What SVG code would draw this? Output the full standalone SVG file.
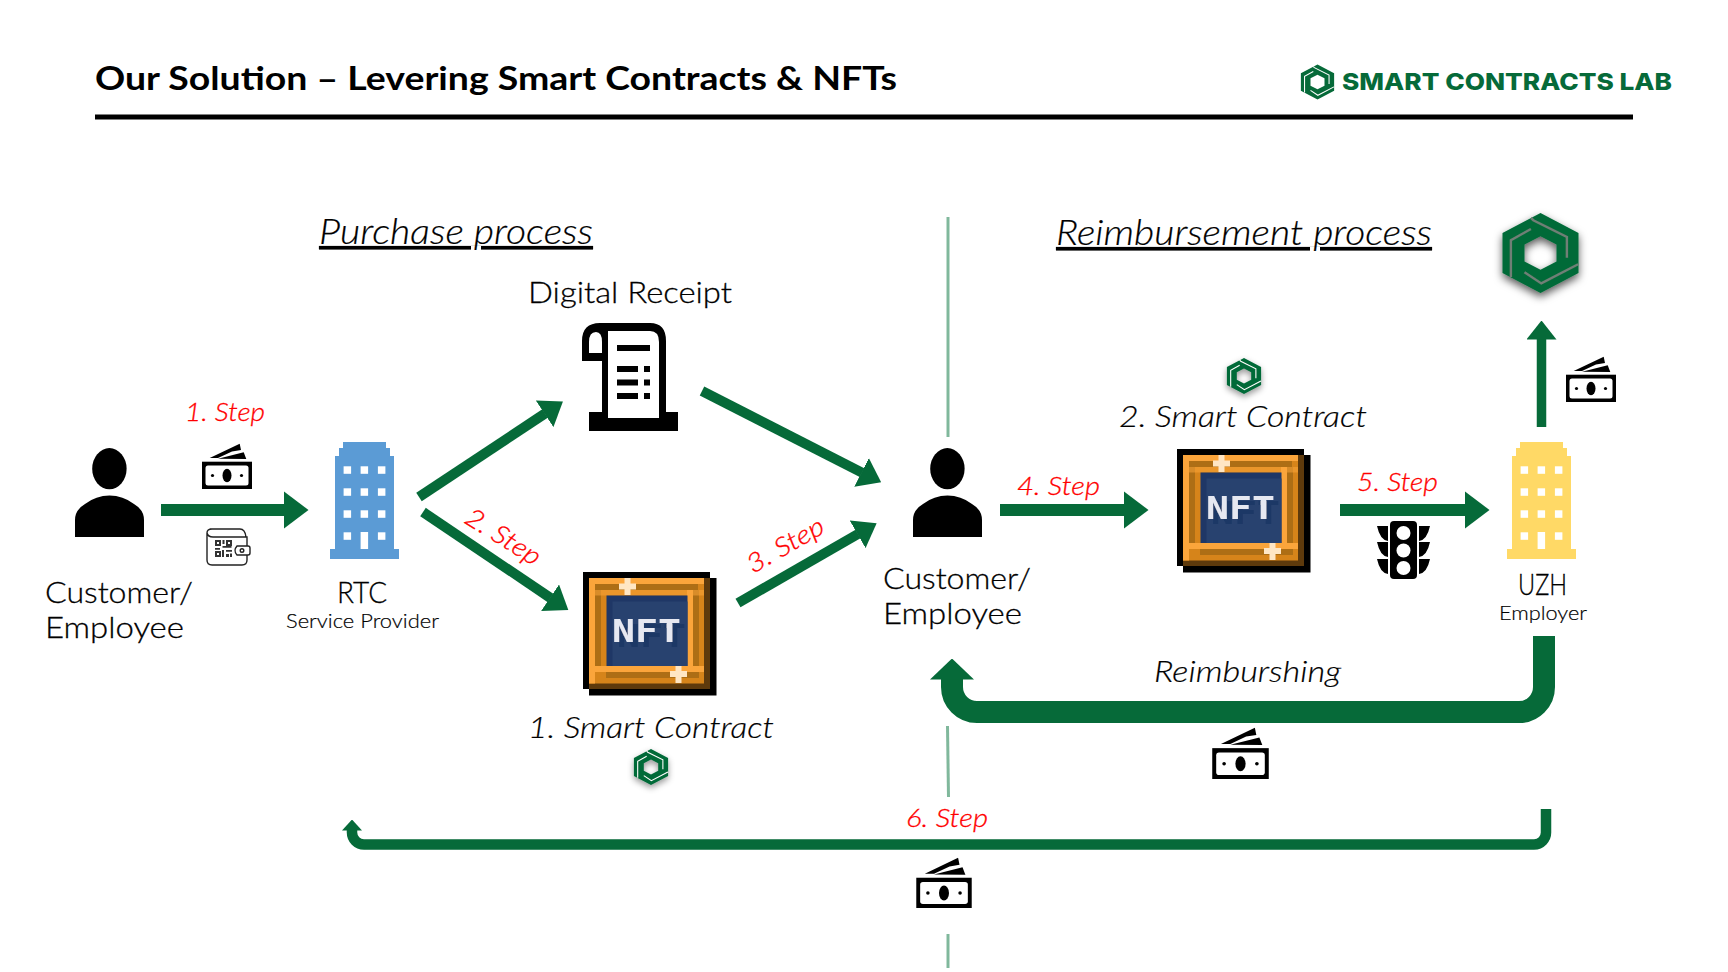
<svg xmlns="http://www.w3.org/2000/svg" width="1728" height="972" viewBox="0 0 1728 972">
<style>
text{font-family:"Lato","Liberation Sans",sans-serif;font-weight:300;fill:#000}
.lab{font-size:30px;stroke:#000;stroke-width:.3px}
.sub{font-size:20px;stroke:#000;stroke-width:.2px}
.proc{font-size:35px;font-style:italic;text-decoration:underline;text-decoration-skip-ink:none;stroke:#000;stroke-width:.2px}
.step{font-size:26px;font-style:italic;fill:#ff0000;stroke:#ff0000;stroke-width:.3px}
.sc{font-size:30px;font-style:italic;stroke:#000;stroke-width:.2px}
.c{stroke:#066a39;fill:none}
.div{stroke:#80b89c;stroke-width:3;fill:none}
.nft-t{font-family:"DejaVu Sans Mono","Liberation Mono",monospace;font-weight:700;font-size:32px;fill:#e6e8f1}
</style>
<defs>
<marker id="hL" markerUnits="userSpaceOnUse" viewBox="0 0 25 38" markerWidth="25" markerHeight="38" refX="0.5" refY="19" orient="auto"><path d="M0 0L25 19L0 38Z" fill="#066a39"/></marker>
<marker id="hM" markerUnits="userSpaceOnUse" viewBox="0 0 22 32" markerWidth="22" markerHeight="32" refX="0.5" refY="16" orient="auto"><path d="M0 0L22 16L0 32Z" fill="#066a39"/></marker>
<marker id="hU" markerUnits="userSpaceOnUse" viewBox="0 0 19 30" markerWidth="19" markerHeight="30" refX="0.5" refY="15" orient="auto"><path d="M0 0L19 15L0 30Z" fill="#066a39"/></marker>
<marker id="hB" markerUnits="userSpaceOnUse" viewBox="0 0 21 44" markerWidth="21" markerHeight="44" refX="0.5" refY="22" orient="auto"><path d="M0 0L21 22L0 44Z" fill="#066a39"/></marker>
<marker id="hS" markerUnits="userSpaceOnUse" viewBox="0 0 11 20" markerWidth="11" markerHeight="20" refX="0.5" refY="10" orient="auto"><path d="M0 0L11 10L0 20Z" fill="#066a39"/></marker>
<filter id="sh" x="-30%" y="-30%" width="160%" height="170%"><feDropShadow dx="0" dy="3" stdDeviation="3" flood-color="#000" flood-opacity=".4"/></filter>
<filter id="shL" x="-30%" y="-30%" width="160%" height="170%"><feDropShadow dx="0" dy="4" stdDeviation="4" flood-color="#000" flood-opacity=".65"/></filter>
<filter id="nftsh" x="-10%" y="-10%" width="130%" height="130%"><feDropShadow dx="5" dy="5" stdDeviation="0" flood-color="#1e3766"/></filter>
<symbol id="person" viewBox="0 0 69 90" width="69" height="90" overflow="visible">
<ellipse cx="34.4" cy="20.7" rx="17.2" ry="20.6"/>
<path d="M0 89V72Q0 62 10 56Q21 47.5 34.5 47.5Q48 47.5 59 56Q69 62 69 72V89Z"/>
</symbol>
<symbol id="bld" viewBox="0 0 69 117" width="69" height="117">
<path fill="currentColor" d="M13 0H56V6H60V14H64V107H69V117H0V107H5V14H9V6H13Z"/>
<g fill="#fff"><rect x="13.6" y="24.3" width="7.5" height="7.5"/><rect x="30.6" y="24.3" width="7.5" height="7.5"/><rect x="47.9" y="24.3" width="7.5" height="7.5"/>
<rect x="13.6" y="46.3" width="7.5" height="7.5"/><rect x="30.6" y="46.3" width="7.5" height="7.5"/><rect x="47.9" y="46.3" width="7.5" height="7.5"/>
<rect x="13.6" y="68.3" width="7.5" height="7.5"/><rect x="30.6" y="68.3" width="7.5" height="7.5"/><rect x="47.9" y="68.3" width="7.5" height="7.5"/>
<rect x="13.6" y="90.3" width="7.5" height="7.5"/><rect x="30.6" y="90" width="7.5" height="17"/><rect x="47.9" y="90.3" width="7.5" height="7.5"/></g>
</symbol>
<symbol id="money" viewBox="0 0 50 46" width="50" height="46">
<path d="M7.7 15L37.7 .7L39 7L30 8.5L16 15Z"/><path d="M16 15.7L41.7 9.3L44.3 16Z"/>
<rect y="18.7" width="50" height="27.3"/><rect x="3.5" y="22.5" width="43" height="20" rx="2.5" fill="#fff"/>
<ellipse cx="25" cy="32.5" rx="4.5" ry="6.7"/><circle cx="10.5" cy="32.5" r="1.6"/><circle cx="39.5" cy="32.5" r="1.6"/>
</symbol>
<symbol id="hex" viewBox="-50 -50 100 100" overflow="visible">
<path fill="#066a39" fill-rule="evenodd" d="M0-50L47.500-25V25L0 50L-47.500 25V-25ZM0-21L-20-10.500V10.500L0 21L20 10.500V-10.500Z"/>
<path fill="none" stroke="currentColor" stroke-width="3" d="M-12-44L-9-41L33-20V6M47 14L1 38L-20 24M-37 30V-16L-12-30"/>
</symbol>
<symbol id="nft" viewBox="0 0 134 124" width="134" height="124">
<path d="M0 0H127V6H133.500V123.500H6V117H0Z"/>
<rect x="6" y="6" width="121" height="111" fill="#5e3a0c"/>
<rect x="6" y="6" width="115" height="105.500" fill="#d6841a"/>
<rect x="6" y="6" width="115" height="6" fill="#fba53b"/><rect x="6" y="6" width="6" height="105.500" fill="#fba53b"/>
<rect x="12" y="12" width="103" height="6" fill="#ad6e15"/><rect x="12" y="18" width="6" height="82" fill="#ad6e15"/>
<rect x="110" y="18" width="6" height="88" fill="#ad6e15"/><rect x="23" y="100" width="87" height="6" fill="#ad6e15"/>
<rect x="6" y="18" width="115" height="5.500" fill="#fba53b" opacity=".55"/><rect x="6" y="94" width="115" height="6" fill="#fba53b"/>
<rect x="104" y="18" width="6" height="82" fill="#fba53b"/>
<rect x="23.500" y="23.500" width="81" height="70.500" fill="#1f3766"/><rect x="29.500" y="29.500" width="75" height="64.500" fill="#28426f"/>
<text class="nft-t" x="63.500" y="70" text-anchor="middle" textLength="69" lengthAdjust="spacingAndGlyphs" filter="url(#nftsh)">NFT</text>
<g fill="#ffe6c4"><rect x="36" y="11.500" width="17" height="6"/><rect x="41.500" y="6" width="6" height="17"/><rect x="87" y="99" width="17" height="6"/><rect x="92.500" y="94" width="6" height="17"/></g>
</symbol>
</defs>
<rect width="1728" height="972" fill="#fff"/>

<g id="title">
<text x="95" y="90" style="font-size:33px;font-weight:700" textLength="802" lengthAdjust="spacingAndGlyphs">Our Solution – Levering Smart Contracts &amp; NFTs</text>
<rect x="95" y="114.500" width="1538" height="5"/>
</g>
<g id="brand" style="color:#fff">
<use href="#hex" x="1300" y="64" width="35" height="36"/>
<text x="1342" y="90" style="font-family:Inter,'Liberation Sans',sans-serif;font-weight:800;font-size:23.500px;fill:#066a39" textLength="330" lengthAdjust="spacingAndGlyphs">SMART CONTRACTS LAB</text>
</g>

<g id="dividers" class="div">
<path d="M948 217V437"/><path d="M947.500 726L948.500 797"/><path d="M948 934V968"/>
</g>

<g id="connectors">
<path class="c" stroke-width="12" marker-end="url(#hL)" d="M161 510H284"/>
<path class="c" stroke-width="10" marker-end="url(#hM)" d="M419 497L545 413.500"/>
<path class="c" stroke-width="10" marker-end="url(#hM)" d="M423 512L550.500 598"/>
<path class="c" stroke-width="10" marker-end="url(#hM)" d="M702 391L862 472.600"/>
<path class="c" stroke-width="10" marker-end="url(#hM)" d="M738 603L858 534"/>
<path class="c" stroke-width="12" marker-end="url(#hL)" d="M1000 510H1124"/>
<path class="c" stroke-width="12" marker-end="url(#hL)" d="M1340 510H1465"/>
<path class="c" stroke-width="9.500" marker-end="url(#hU)" d="M1541.500 427V339"/>
<path class="c" stroke-width="22" marker-end="url(#hB)" d="M1544 636V687A25 25 0 0 1 1519 712H977A25 25 0 0 1 952 687V679"/>
<path class="c" stroke-width="10.500" marker-end="url(#hS)" d="M1546 809V832A12 12 0 0 1 1534 844.500H364A12 12 0 0 1 352 832.500V830"/>
</g>

<g id="customer-1"><use href="#person" x="75" y="448"/>
<text class="lab" x="45" y="603" textLength="148" lengthAdjust="spacingAndGlyphs">Customer/</text>
<text class="lab" x="45" y="638" textLength="139" lengthAdjust="spacingAndGlyphs">Employee</text></g>

<g id="step-1"><text class="step" x="185" y="421" textLength="80" lengthAdjust="spacingAndGlyphs">1. Step</text></g>
<g id="money-1"><use href="#money" x="202" y="443"/></g>
<g id="wallet" fill="none" stroke="#222" stroke-width="1.400">
<path d="M210 529H240Q245 529 246 537H247Q247 541 247 546M207 533Q207 529 212 529M207 533V560Q207 565 212 565H242Q247 565 247 560V555M207 533Q208 537 213 537H246"/>
<path d="M237 546H248Q250 546 250 548V553Q250 555 248 555H237Q233 550.500 237 546Z"/><circle cx="242" cy="550.500" r="1.800"/>
<g stroke="none" fill="#333"><path d="M215 540h6v6h-6zM226 540h6v6h-6zM215 551h6v6h-6z"/><path d="M222.500 540h2v4h-2zM222.500 546h9v1.800h-9zM215 548h5v1.800h-5zM222 550h2v7h-2zM226 550h6v1.800h-6zM226 554h3v3h-3zM230 553.500h2v3.500h-2z"/><path fill="#fff" d="M217 542h2v2h-2zM228 542h2v2h-2zM217 553h2v2h-2z"/></g>
</g>

<g id="rtc"><use href="#bld" x="330" y="442" style="color:#5b9bd5"/>
<text class="lab" x="337" y="603" textLength="50" lengthAdjust="spacingAndGlyphs">RTC</text>
<text class="sub" x="286" y="628" textLength="153" lengthAdjust="spacingAndGlyphs">Service Provider</text></g>

<g id="digital-receipt">
<text class="lab" x="528" y="303" textLength="204" lengthAdjust="spacingAndGlyphs">Digital Receipt</text>
<path d="M582 341Q582 323 600 323H650Q666 323 666 341V412H678V431H589V412H602V361H582Z"/>
<path fill="#fff" d="M608 331H650Q659 331 659 342V418H608ZM589 353V342Q589 332 596 332Q602 332 602 342V353Z"/>
<path d="M617 345h33v6h-33zM617 366h21v6h-21zM644 366h6v6h-6zM617 379.500h21v6h-21zM644 379.500h6v6h-6zM617 393h21v6h-21zM644 393h6v6h-6z"/>
</g>

<g id="step-2"><text class="step" transform="translate(463 522) rotate(32)" textLength="84" lengthAdjust="spacingAndGlyphs">2. Step</text></g>
<g id="step-3"><text class="step" transform="translate(753 574) rotate(-30)" textLength="85" lengthAdjust="spacingAndGlyphs">3. Step</text></g>

<g id="contract-1" style="color:#fff"><use href="#nft" x="583" y="572"/>
<text class="sc" x="528" y="738" textLength="246" lengthAdjust="spacingAndGlyphs">1. Smart Contract</text>
<use href="#hex" x="633" y="749" width="36" height="36" filter="url(#sh)"/></g>

<g id="customer-2"><use href="#person" x="913" y="448"/>
<text class="lab" x="883" y="589" textLength="148" lengthAdjust="spacingAndGlyphs">Customer/</text>
<text class="lab" x="883" y="624" textLength="139" lengthAdjust="spacingAndGlyphs">Employee</text></g>

<g id="heading-purchase"><text class="proc" x="319" y="244" textLength="274" lengthAdjust="spacingAndGlyphs">Purchase process</text></g>
<g id="heading-reimb"><text class="proc" x="1056" y="245" textLength="376" lengthAdjust="spacingAndGlyphs">Reimbursement process</text></g>

<g id="step-4"><text class="step" x="1017" y="495" textLength="83" lengthAdjust="spacingAndGlyphs">4. Step</text></g>
<g id="contract-2" style="color:#fff"><use href="#hex" x="1226" y="358" width="36" height="36" filter="url(#sh)"/>
<text class="sc" x="1119" y="427" textLength="248" lengthAdjust="spacingAndGlyphs">2. Smart Contract</text>
<use href="#nft" x="1177" y="449"/></g>

<g id="step-5"><text class="step" x="1357" y="491" textLength="81" lengthAdjust="spacingAndGlyphs">5. Step</text></g>
<g id="traffic-light">
<rect x="1390" y="521" width="27" height="58" rx="4"/>
<g fill="#fff"><circle cx="1403.500" cy="533" r="7"/><circle cx="1403.500" cy="550.500" r="7"/><circle cx="1403.500" cy="568" r="7"/></g>
<path d="M1377 526H1388V541Q1380 540 1377 526ZM1377 542H1388V557Q1380 556 1377 542ZM1377 559H1388V574Q1380 573 1377 559ZM1430 526H1419V541Q1427 540 1430 526ZM1430 542H1419V557Q1427 556 1430 542ZM1430 559H1419V574Q1427 573 1430 559Z"/>
</g>

<g id="uzh"><use href="#bld" x="1507" y="442" style="color:#ffd966"/>
<text class="lab" x="1518" y="595" textLength="49" lengthAdjust="spacingAndGlyphs">UZH</text>
<text class="sub" x="1499" y="620" textLength="88" lengthAdjust="spacingAndGlyphs">Employer</text></g>

<g id="smart-contracts-logo" style="color:#6f7f76"><use href="#hex" x="1500.500" y="213" width="80" height="80" filter="url(#shL)"/></g>
<g id="money-2"><use href="#money" x="1566" y="356"/></g>

<g id="reimbursing"><text class="sc" x="1154" y="682" textLength="187" lengthAdjust="spacingAndGlyphs">Reimburshing</text>
<use href="#money" x="1212" y="727" width="57" height="52"/></g>

<g id="step-6"><text class="step" x="906" y="827" textLength="82" lengthAdjust="spacingAndGlyphs">6. Step</text>
<use href="#money" x="916" y="857" width="56" height="51"/></g>
</svg>
